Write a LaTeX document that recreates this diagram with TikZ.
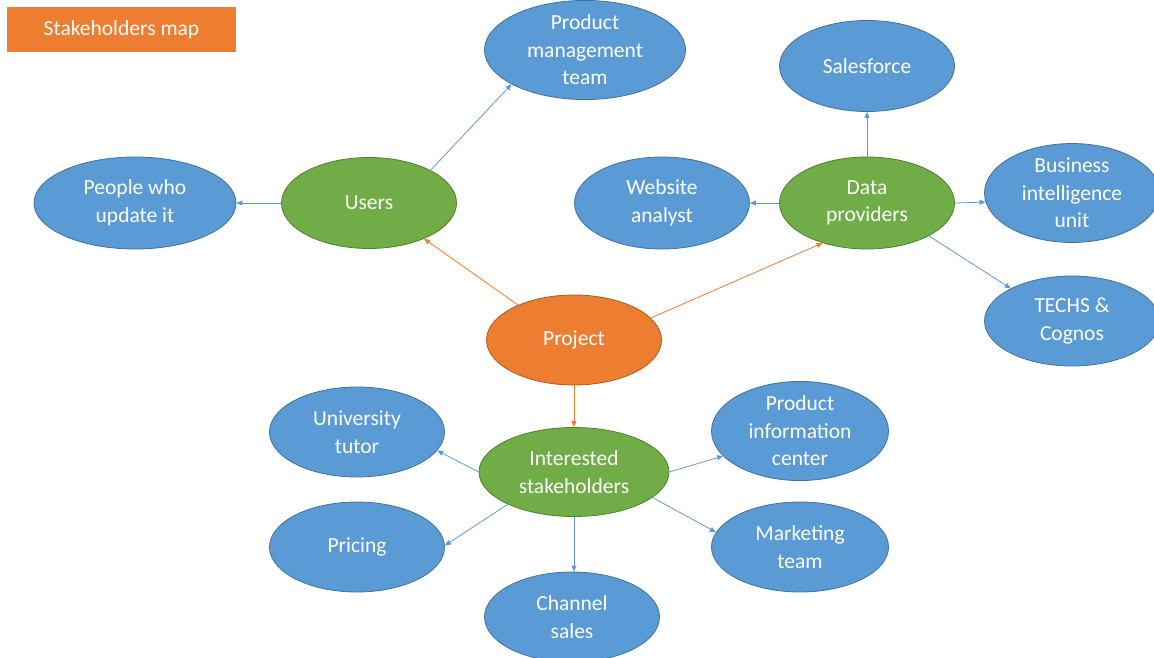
\documentclass[tikz,border=0pt]{standalone}
\usepackage{fontspec}
\setmainfont{Carlito}
\usetikzlibrary{shapes.geometric,arrows.meta}
\definecolor{bfill}{HTML}{5B9BD5}
\definecolor{bdraw}{HTML}{41719C}
\definecolor{gfill}{HTML}{70AD47}
\definecolor{gdraw}{HTML}{507E32}
\definecolor{ofill}{HTML}{ED7D31}
\definecolor{odraw}{HTML}{AE5A21}
\tikzset{
  bub/.style={ellipse, inner sep=0pt, minimum width=175pt, minimum height=91pt,
    line width=0.8pt, text=white, align=center,
    font=\fontsize{21.5}{27.5}\selectfont},
  blue bub/.style={bub, fill=bfill, draw=bdraw},
  green bub/.style={bub, fill=gfill, draw=gdraw},
  orange bub/.style={bub, fill=ofill, draw=odraw},
  barr/.style={draw=bfill, line width=0.8pt, -{Triangle[length=6pt,width=5pt]}},
  oarr/.style={draw=ofill, line width=0.8pt, -{Triangle[length=6pt,width=5pt]}},
  titlebox/.style={fill=ofill, text=white, minimum width=229pt, minimum height=45pt,
    inner sep=0pt, font=\fontsize{21.5}{27.5}\selectfont}
}
\begin{document}
\begin{tikzpicture}[x=1pt,y=-1pt]
\useasboundingbox (0,0) rectangle (1154,658);
\node[titlebox] (title) at (121.5,29.5) {Stakeholders map};

\node[blue bub, minimum width=201pt, minimum height=93pt] (pmt) at (585,50) {Product\\management\\team};
\node[blue bub] (sf) at (867,66) {Salesforce};
\node[blue bub, minimum width=202pt, minimum height=92pt] (people) at (135,203) {People who\\update it};
\node[green bub] (users) at (369,203) {Users};
\node[blue bub, minimum height=92pt] (web) at (662,203) {Website\\analyst};
\node[green bub, minimum height=92pt] (dp) at (867,203) {Data\\providers};
\node[blue bub, minimum height=90pt] (bi) at (1072,193) {Business\\intelligence\\unit};
\node[blue bub, minimum height=90pt] (techs) at (1072,321) {TECHS \&\\Cognos};
\node[orange bub, minimum height=90pt] (proj) at (574,340) {Project};
\node[blue bub, minimum height=90pt] (ut) at (357,432) {University\\tutor};
\node[green bub, minimum width=190pt, minimum height=89pt] (is) at (574,472) {Interested\\stakeholders};
\node[blue bub, minimum width=177pt, minimum height=91pt] (pic) at (800,431) {Product\\information\\center};
\node[blue bub, minimum height=90pt] (pricing) at (357,547) {Pricing};
\node[blue bub, minimum width=177pt, minimum height=90pt] (mkt) at (800,547) {Marketing\\team};
\node[blue bub, minimum height=90pt] (ch) at (572,617) {Channel\\sales};

\draw[barr] (users.28) -- (pmt.205);
\draw[barr] (users.west) -- (people.east);
\draw[oarr] (proj.148) -- (users.-33);
\draw[oarr] (proj.16) -- (dp.222);
\draw[barr] (dp.north) -- (sf.south);
\draw[barr] (dp.west) -- (web.east);
\draw[barr] (dp.east) -- (bi.186);
\draw[barr] (dp.-28) -- (techs.152);
\draw[oarr] (proj.south) -- (is.north);
\draw[barr] (is.west) -- (ut.-13);
\draw[barr] (is.east) -- (pic.198);
\draw[barr] (is.206) -- (pricing.1);
\draw[barr] (is.-18) -- (mkt.170);
\draw[barr] (is.south) -- (is.south |- ch.north);
\end{tikzpicture}
\end{document}
